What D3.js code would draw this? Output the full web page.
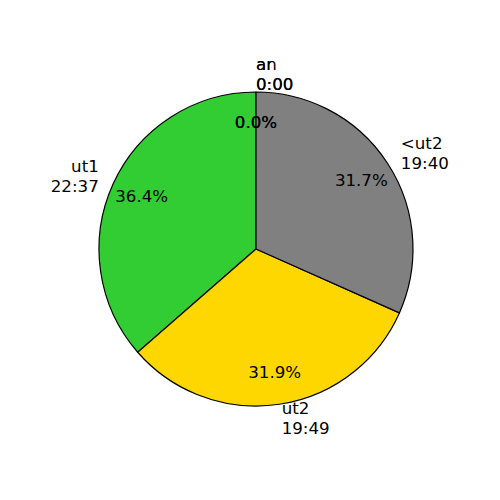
<!DOCTYPE html>
<html>
<head>
<meta charset="utf-8">
<script src="https://cdn.jsdelivr.net/npm/d3@7"></script>
<style>
  body { margin: 0; background: #fff; }
  svg text { font-family: "DejaVu Sans", sans-serif; font-size: 16.67px; fill: #000; }
</style>
</head>
<body>
<div id="chart"></div>
<script>
// slices, in drawing order (counter-clockwise from 12 o'clock)
const categories = ['ar', 'an', 'ut1', 'ut2', '<ut2'];
const minutes = [0, 0, 1357, 1189, 1180];
const timeLabels = ['0:00', '0:00', '22:37', '19:49', '19:40'];
const colors = ['#1f77b4', '#ff7f0e', '#32cd32', '#ffd700', '#808080'];

const width = 500, height = 500;
const cx = 256, cy = 249, radius = 157;

const svg = d3.select('#chart')
  .append('svg')
  .attr('width', width)
  .attr('height', height);

const g = svg.append('g').attr('transform', `translate(${cx},${cy})`);

const data = categories.map((c, i) => ({ name: c, value: minutes[i], time: timeLabels[i], color: colors[i] }));
const total = d3.sum(minutes);

// counter-clockwise like matplotlib
const pie = d3.pie()
  .sort(null)
  .value(d => d.value)
  .startAngle(0)
  .endAngle(-2 * Math.PI);

const arcs = pie(data);
const arc = d3.arc().innerRadius(0).outerRadius(radius);

g.selectAll('path')
  .data(arcs.filter(d => d.data.value > 0))
  .enter()
  .append('path')
  .attr('d', arc)
  .attr('fill', d => d.data.color)
  .attr('stroke', '#000')
  .attr('stroke-width', 1.2)
  .attr('stroke-linejoin', 'round');

const mid = d => (d.startAngle + d.endAngle) / 2;
// x,y from d3 angle (clockwise from top)
const pos = (a, r) => [Math.sin(a) * r, -Math.cos(a) * r];

// outer labels
const labels = g.append('g')
  .selectAll('text')
  .data(arcs)
  .enter()
  .append('text')
  .attr('text-anchor', d => (pos(mid(d), 1)[0] >= -1e-9 ? 'start' : 'end'))
  .attr('transform', d => {
    const [x, y] = pos(mid(d), radius * 1.1);
    return `translate(${x},${y})`;
  });

labels.append('tspan')
  .attr('x', 0)
  .attr('y', -6)
  .text(d => d.data.name);
labels.append('tspan')
  .attr('x', 0)
  .attr('y', 14)
  .text(d => d.data.time);

// percentages
g.append('g')
  .selectAll('text')
  .data(arcs)
  .enter()
  .append('text')
  .attr('text-anchor', 'middle')
  .attr('x', d => pos(mid(d), radius * 0.8)[0])
  .attr('y', d => pos(mid(d), radius * 0.8)[1] + 5)
  .text(d => (100 * d.data.value / total).toFixed(1) + '%');
</script>
</body>
</html>
